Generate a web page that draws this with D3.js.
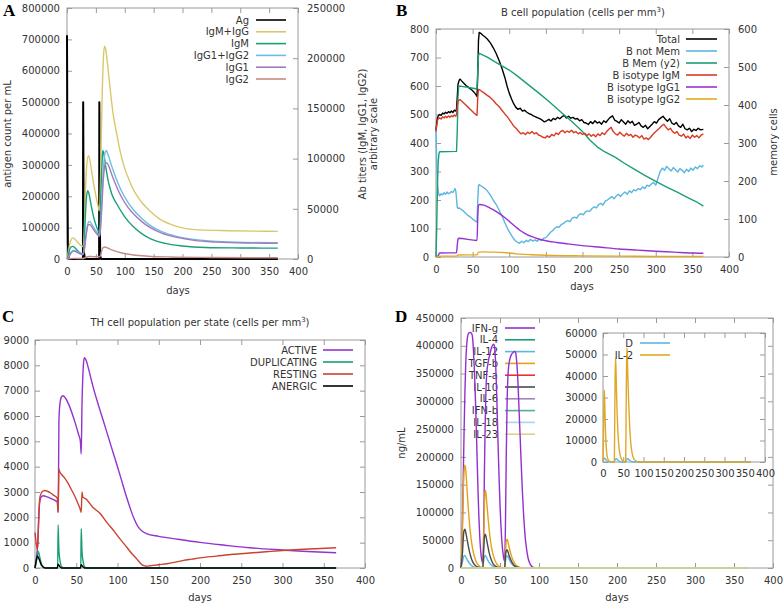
<!DOCTYPE html>
<html><head><meta charset="utf-8">
<script src="https://cdn.jsdelivr.net/npm/d3@7"></script>
<style>
body{margin:0;background:#fff}
svg{display:block}
text{font-family:"DejaVu Sans",sans-serif;font-size:10px;fill:#333}
.plab{font-family:"Liberation Serif",serif;font-weight:bold;font-size:17px;fill:#000}
</style>
</head><body>
<svg id="c" width="784" height="605"></svg>
<script>
// ---------- shared tick labels ----------
const xTicks = [0,50,100,150,200,250,300,350,400];

// ---------- Panel A ----------
const aYTicks = [0,100000,200000,300000,400000,500000,600000,700000,800000];
const aY2Ticks = [0,50000,100000,150000,200000,250000];
const aLegend = ["Ag","IgM+IgG","IgM","IgG1+IgG2","IgG1","IgG2"];
const agSeries = [[0,713000],[0.7,300000],[1.5,50000],[3,0],[27.6,0],[28,500000],[28.7,200000],[29.5,20000],[31,0],[55.6,0],[56,500000],[56.7,150000],[57.5,10000],[59,0],[365,0]];
const igmIggSeries = [[0,0],[2,5000],[4,13000],[7,19000],[10,21000],[14,19500],[18,17000],[22,14500],[27,12500],[28,13000],[30,30000],[32,68000],[34,92000],[37,103000],[39,100000],[42,90000],[46,75000],[50,63000],[54,52000],[56,48000],[57,55000],[59,110000],[61,165000],[63,200000],[65,212000],[67,209000],[70,195000],[75,168000],[80,144000],[86,125000],[93,105000],[100,90000],[108,78000],[115,69000],[130,56000],[145,47000],[160,40000],[180,34500],[200,31000],[230,29000],[280,28200],[365,27500]];
const igmSeries = [[0,0],[2,3000],[4,8500],[7,12000],[10,12600],[14,11000],[18,8500],[22,6500],[27,5000],[28,5500],[30,18000],[32,45000],[34,63000],[36,68000],[38,65000],[42,53000],[46,42000],[50,34000],[54,28000],[56,26000],[57,30000],[59,70000],[61,100000],[62,108000],[64,104000],[67,92000],[72,76000],[78,64000],[86,55000],[100,42000],[115,32000],[130,25000],[145,20000],[170,15500],[200,13000],[240,11500],[300,11000],[365,10800]];
const igg12Series = [[0,0],[3,2000],[6,5500],[9,8000],[12,8600],[16,7800],[20,6500],[24,5200],[27,4700],[28,5000],[30,10000],[33,25000],[36,35000],[38,37500],[41,36500],[45,32500],[50,28000],[54,25000],[56,24000],[57,26000],[60,55000],[63,90000],[66,106000],[68,108000],[71,104000],[76,95000],[82,85000],[88,76000],[95,67000],[105,57000],[115,49000],[130,40000],[145,33000],[165,27000],[190,22500],[220,19500],[260,17500],[310,16500],[365,16200]];
const igg1Series = [[0,0],[3,1800],[6,5000],[9,7200],[12,7800],[16,7000],[20,5800],[24,4800],[27,4300],[28,4600],[30,9000],[33,23000],[36,33000],[38,34500],[41,33500],[45,30000],[50,26000],[54,23500],[56,22500],[57,24000],[60,48000],[63,80000],[66,94000],[69,96000],[72,93000],[77,85000],[83,76000],[89,68000],[96,60000],[105,52000],[115,45000],[130,37000],[145,31000],[165,25500],[190,21500],[220,18500],[260,16800],[310,15900],[365,15600]];
const igg2Series = [[0,0],[5,300],[12,600],[25,500],[28,500],[32,1500],[38,2500],[45,2400],[55,2200],[57,2300],[60,8000],[63,11500],[66,12000],[70,11000],[80,8500],[95,6000],[115,4000],[140,2800],[180,2000],[250,1500],[365,1200]];

// ---------- Panel B ----------
const bYTicks = [0,100,200,300,400,500,600,700,800];
const bY2Ticks = [0,100,200,300,400,500,600];
const bLegend = ["Total","B not Mem","B Mem (y2)","B isotype IgM","B isotype IgG1","B isotype IgG2"];
const totalSeries = [[0,445],[1,470],[2,488],[3,495],[4,498],[5,500],[7,497],[9,505],[11,502],[13,508],[15,504],[17,510],[19,506],[21,512],[23,507],[25,515],[27,512],[28,518],[29,560],[30,605],[31,615],[32,622],[33,624],[35,618],[38,610],[41,602],[44,596],[47,590],[50,583],[53,575],[55,568],[56,563],[57,640],[58,760],[59,788],[61,785],[64,778],[67,772],[70,765],[74,752],[78,735],[82,715],[86,690],[90,662],[94,630],[97,600],[100,575],[103,555],[106,538],[109,525],[112,518],[115,522],[118,512],[121,515],[124,508],[127,503],[130,500],[133,495],[136,492],[139,488],[142,485],[145,480],[148,474],[151,478],[154,483],[157,477],[160,486],[163,482],[166,490],[169,485],[172,492],[175,497],[178,488],[181,494],[184,487],[187,490],[190,484],[193,486],[196,478],[199,482],[202,472],[205,470],[208,465],[211,475],[214,468],[217,478],[220,470],[223,474],[226,466],[229,478],[232,472],[235,482],[238,490],[241,495],[244,480],[247,476],[250,470],[253,482],[256,474],[259,466],[262,478],[265,470],[268,476],[271,462],[274,466],[277,472],[280,460],[283,455],[286,462],[289,450],[292,458],[295,466],[298,475],[301,470],[304,482],[307,488],[310,494],[313,484],[316,476],[319,485],[322,470],[325,465],[328,472],[331,460],[334,455],[337,466],[340,450],[343,446],[346,452],[349,440],[352,448],[355,444],[358,452],[361,446],[365,448]];
const notMemSeries = [[0,445],[1,330],[2,260],[3,230],[4,218],[5,215],[7,222],[9,218],[11,226],[13,220],[15,228],[17,222],[19,225],[21,230],[23,226],[25,235],[26,240],[27,232],[28,205],[29,175],[30,170],[32,172],[35,166],[38,160],[41,152],[44,145],[47,140],[50,133],[53,127],[56,122],[57,200],[58,250],[59,254],[61,250],[64,245],[67,240],[70,232],[74,218],[78,200],[82,185],[86,165],[90,145],[94,120],[98,98],[102,80],[105,68],[108,58],[111,52],[114,48],[117,55],[120,50],[123,58],[126,54],[129,62],[132,56],[135,60],[138,55],[141,62],[144,58],[147,66],[150,68],[153,76],[156,86],[159,92],[162,100],[165,106],[168,104],[171,114],[174,118],[177,124],[180,128],[183,124],[186,136],[189,140],[192,136],[195,148],[198,152],[201,148],[204,158],[207,162],[210,160],[213,170],[216,176],[219,172],[222,184],[225,188],[228,182],[231,196],[234,200],[237,206],[240,212],[243,204],[246,214],[249,220],[252,212],[255,222],[258,228],[261,220],[264,232],[267,226],[270,236],[273,232],[276,240],[279,236],[282,246],[285,240],[288,252],[291,248],[294,256],[297,262],[300,252],[303,276],[306,300],[309,312],[312,304],[315,318],[318,310],[321,302],[324,314],[327,306],[330,298],[333,310],[336,304],[339,296],[342,308],[345,300],[348,312],[351,304],[354,316],[357,310],[360,320],[363,316],[365,322]];
const memSeries = [[0,0],[1,80],[2,190],[3,250],[4,272],[5,277],[28,278],[29,330],[30,420],[31,450],[35,449],[45,446],[56,442],[57,490],[58,530],[59,536],[70,526],[80,514],[90,503],[100,492],[110,478],[125,455],[140,432],[155,408],[170,382],[185,357],[200,330],[210,308],[220,290],[230,277],[245,262],[256,248],[270,232],[285,215],[302,197],[315,184],[330,170],[345,155],[355,146],[365,134]];
const isoIgmSeries = [[0,440],[1,462],[2,478],[3,485],[5,488],[7,484],[9,492],[11,488],[13,494],[15,489],[17,495],[19,490],[21,496],[23,492],[25,498],[27,494],[28,500],[29,530],[30,545],[31,550],[33,552],[36,545],[40,535],[44,525],[48,515],[52,505],[55,498],[56,497],[57,560],[58,588],[60,586],[63,580],[66,575],[70,567],[74,560],[78,550],[82,538],[86,528],[90,515],[94,502],[98,490],[102,475],[106,460],[110,450],[113,440],[116,432],[119,436],[122,430],[125,438],[128,433],[131,440],[134,432],[137,436],[140,428],[143,425],[146,420],[149,418],[152,425],[155,420],[158,430],[161,425],[164,435],[167,430],[170,440],[173,444],[176,436],[179,442],[182,438],[185,445],[188,436],[191,440],[194,432],[197,437],[200,430],[203,434],[206,426],[209,432],[212,424],[215,430],[218,422],[221,432],[224,426],[227,436],[230,430],[233,440],[236,448],[239,455],[242,440],[245,432],[248,428],[251,438],[254,430],[257,424],[260,434],[263,426],[266,430],[269,420],[272,428],[275,424],[278,418],[281,426],[284,414],[287,418],[290,412],[293,420],[296,430],[299,438],[302,445],[305,452],[308,460],[311,466],[314,455],[317,446],[320,452],[323,440],[326,434],[329,440],[332,428],[335,424],[338,432],[341,418],[344,424],[347,416],[350,428],[353,420],[356,426],[359,418],[362,428],[365,432]];
const isoIgg1Series = [[0,0],[3,5],[5,14],[28,15],[29,40],[30,62],[31,66],[56,58],[57,140],[58,182],[60,184],[65,182],[70,177],[75,170],[80,163],[85,155],[90,146],[95,136],[100,125],[105,114],[110,103],[115,93],[120,85],[130,72],[140,63],[150,57],[165,51],[180,46],[200,40],[225,34],[250,28],[275,24],[300,20],[325,17],[350,14],[365,13]];
const isoIgg2Series = [[0,0],[3,1],[5,3],[28,3],[30,7],[56,8],[58,17],[65,18],[80,17],[95,15],[110,11],[130,8],[150,6],[200,4],[250,3],[300,2],[365,2]];

// ---------- Panel C ----------
const cYTicks = [0,1000,2000,3000,4000,5000,6000,7000,8000,9000];
const cLegend = ["ACTIVE","DUPLICATING","RESTING","ANERGIC"];
const activeSeries = [[0,50],[1,200],[2,500],[3,800],[4,1500],[5,2300],[6,2650],[8,2820],[10,2850],[13,2830],[17,2780],[21,2720],[25,2650],[27,2600],[28,2200],[28.5,3500],[29,5800],[30,6400],[32,6750],[34,6800],[37,6700],[41,6450],[45,6100],[49,5700],[53,5250],[55,5000],[56,4500],[57,6500],[58,7600],[59,8150],[60,8300],[62,8200],[65,7850],[70,7200],[75,6630],[80,6100],[85,5580],[90,5050],[95,4520],[100,4000],[105,3450],[110,2900],[115,2400],[120,1950],[125,1620],[130,1450],[135,1360],[150,1250],[170,1150],[200,1010],[230,900],[260,800],[300,710],[330,650],[365,600]];
const duplicatingSeries = [[0,0],[2,300],[4,650],[6,400],[8,150],[11,30],[14,0],[27.5,0],[28,1700],[29,700],[30.5,250],[32,60],[35,0],[55.5,0],[56,1550],[57,650],[58.5,220],[60,50],[63,0],[365,0]];
const restingSeries = [[0,1400],[1,1100],[2,850],[3,720],[4,1500],[5,2400],[6,2800],[8,2980],[10,3040],[12,3060],[15,3030],[19,2960],[23,2860],[27,2750],[28,2200],[28.5,3000],[29,3900],[30,3800],[32,3700],[36,3550],[40,3350],[44,3100],[48,2850],[52,2550],[55,2300],[56,2200],[57,3000],[58,2800],[62,2720],[70,2400],[79,2150],[87,1800],[95,1490],[103,1150],[111,830],[117,580],[123,370],[128,180],[131,100],[135,70],[140,90],[150,130],[160,170],[170,230],[180,300],[190,350],[200,400],[220,470],[240,540],[260,590],[280,640],[300,690],[320,730],[340,760],[365,800]];
const anergicSeries = [[0,0],[1.5,300],[3,480],[5,350],[8,100],[12,0],[27,0],[28,150],[30,60],[32,0],[55,0],[56,130],[58,50],[60,0],[365,0]];

// ---------- Panel D ----------
const dYTicks = [0,50000,100000,150000,200000,250000,300000,350000,400000,450000];
const dLegend = ["IFN-g","IL-4","IL-12","TGF-b","TNF-a","IL-10","IL-6","IFN-b","IL-18","IL-23"];
const ifngSeries = [[0,0],[1,30000],[2,90000],[3,170000],[4,250000],[5,315000],[6,365000],[7,395000],[8,412000],[9,420000],[10,423000],[12,424000],[14,421000],[15,412000],[16,390000],[17,360000],[18,325000],[19,280000],[20,232000],[21,180000],[22,130000],[23,90000],[24,58000],[25,35000],[26,20000],[27,12000],[28,9000],[29,60000],[30,170000],[31,260000],[32,320000],[33,350000],[35,372000],[37,385000],[39,396000],[41,402000],[42,403000],[43,398000],[44,380000],[45,345000],[46,300000],[47,250000],[48,200000],[49,155000],[50,115000],[51,82000],[52,56000],[53,38000],[54,25000],[55,16000],[56,12000],[57,80000],[58,200000],[59,290000],[60,340000],[61,362000],[63,378000],[65,385000],[67,388000],[69,390000],[70,388000],[71,378000],[72,360000],[73,335000],[74,300000],[75,265000],[76,230000],[77,195000],[78,160000],[79,130000],[80,102000],[81,80000],[82,60000],[84,35000],[86,18000],[88,9000],[90,4000],[93,1000],[96,0],[365,0]];
const il4Series = [[0,0],[365,0]];
const il12Series = [[0,0],[2,12000],[3,19000],[4,22000],[5,22500],[6,20000],[8,15000],[10,10000],[13,5000],[16,2000],[20,500],[28,0],[29,12000],[30,20000],[31,22500],[32,21000],[34,15000],[36,10000],[39,5000],[43,1500],[50,0],[56,0],[57,12000],[58,20000],[59,22000],[61,18000],[63,12000],[66,6000],[70,2000],[76,0],[365,0]];
const tgfbSeries = [[0,0],[1,30000],[2,80000],[3,140000],[4,175000],[5,185000],[6,178000],[7,158000],[8,135000],[10,95000],[12,64000],[14,42000],[16,27000],[18,17000],[20,10000],[23,4000],[26,1000],[28,500],[29,40000],[30,110000],[31,140000],[32,135000],[33,118000],[35,85000],[37,58000],[39,38000],[41,25000],[44,12000],[47,5000],[51,1500],[56,500],[57,25000],[58,48000],[59,52000],[60,48000],[62,36000],[64,25000],[66,16000],[69,8000],[72,3500],[76,1000],[80,0],[365,0]];
const tnfaSeries = [[0,0],[365,0]];
const il10Series = [[0,0],[2,30000],[3,55000],[4,68000],[5,70000],[6,65000],[8,50000],[10,35000],[12,23000],[15,11000],[18,5000],[22,1500],[26,300],[28,0],[29,30000],[30,55000],[31,61000],[32,57000],[34,42000],[36,28000],[38,18000],[41,8000],[45,2500],[50,500],[56,0],[57,22000],[58,31000],[59,33000],[60,30000],[62,21000],[65,11000],[68,5000],[72,1500],[78,0],[365,0]];
const il6Series = [[0,0],[365,0]];
const ifnbSeries = [[0,0],[365,0]];
const il18Series = [[0,0],[365,0]];
const il23Series = [[0,0],[365,0]];
// inset
const insetYTicks = [0,10000,20000,30000,40000,50000,60000];
const insetLegend = ["D","IL-2"];
const dangerSeries = [[0,0],[2,1500],[4,1800],[7,1000],[12,300],[20,0],[28,0],[30,1200],[33,1500],[37,800],[45,0],[56,0],[58,1200],[61,1500],[66,700],[75,0],[365,0]];
const il2Series = [[0,0],[1,10000],[2,25000],[3,33500],[4,30000],[5,22000],[6,15000],[8,7000],[10,3000],[13,1000],[18,200],[27,0],[28,0],[29,20000],[30,40000],[31,48500],[32,44000],[33,35000],[35,22000],[37,13000],[40,6000],[44,2000],[50,400],[56,0],[57,22000],[58,42000],[59,53000],[60,50000],[61,42000],[63,30000],[65,20000],[68,10000],[72,4000],[77,1200],[85,200],[95,0],[365,0]];

// ---------- drawing ----------
const svg = d3.select("#c");
const fmt = d3.format("d");
const FRAME = "#9a9a9a";

function styleAxis(sel){
  sel.attr("font-family","DejaVu Sans").attr("font-size",10);
  sel.select(".domain").remove();
  sel.selectAll("line").attr("stroke",FRAME);
  sel.selectAll("text").attr("fill","#333");
}

function makePanel(p){
  const g = svg.append("g");
  const x = d3.scaleLinear().domain([0,400]).range([p.left,p.right]);
  const y = d3.scaleLinear().domain([0,p.yMax]).range([p.bottom,p.top]);
  const y2 = p.y2Max ? d3.scaleLinear().domain([0,p.y2Max]).range([p.bottom,p.top]) : null;
  if (p.fillWhite) g.append("rect").attr("x",p.left).attr("y",p.top).attr("width",p.right-p.left).attr("height",p.bottom-p.top).attr("fill","#fff");
  g.append("g").attr("transform",`translate(0,${p.bottom})`)
    .call(d3.axisBottom(x).tickValues(p.xTicks).tickSize(-5).tickPadding(p.xPad||9).tickFormat(fmt)).call(styleAxis);
  g.append("g").attr("transform",`translate(0,${p.top})`)
    .call(d3.axisTop(x).tickValues(p.xTicks).tickSize(-5).tickFormat(()=>"")).call(styleAxis);
  g.append("g").attr("transform",`translate(${p.left},0)`)
    .call(d3.axisLeft(y).tickValues(p.yTicks).tickSize(-5).tickPadding(p.yPad||7).tickFormat(fmt)).call(styleAxis);
  if (y2){
    g.append("g").attr("transform",`translate(${p.right},0)`)
      .call(d3.axisRight(y2).tickValues(p.y2Ticks).tickSize(-5).tickPadding(9).tickFormat(fmt)).call(styleAxis);
  } else {
    g.append("g").attr("transform",`translate(${p.right},0)`)
      .call(d3.axisRight(y).tickValues(p.yTicks).tickSize(-5).tickFormat(()=>"")).call(styleAxis);
  }
  g.append("rect").attr("x",p.left).attr("y",p.top).attr("width",p.right-p.left).attr("height",p.bottom-p.top)
    .attr("fill","none").attr("stroke",FRAME).attr("stroke-width",1);
  return {g,x,y,y2};
}

function drawLine(P, data, color, opts={}){
  const ys = opts.y2 ? P.y2 : P.y;
  const line = d3.line().x(d=>P.x(d[0])).y(d=>ys(d[1])).curve(opts.smooth ? d3.curveMonotoneX : d3.curveLinear);
  P.g.append("path").datum(data).attr("d",line).attr("fill","none")
    .attr("stroke",color).attr("stroke-width",opts.w||1.4).attr("stroke-linejoin","round");
}

function legend(g, labels, colors, o){
  labels.forEach((lab,i)=>{
    const yy = o.y0 + i*o.step;
    g.append("text").attr("x",o.tx).attr("y",yy+3.6).attr("text-anchor","end").text(lab);
    g.append("line").attr("x1",o.l1).attr("x2",o.l2).attr("y1",yy).attr("y2",yy)
      .attr("stroke",colors[i]).attr("stroke-width",1.6);
  });
}

function rotLabel(x,y,txt){
  svg.append("text").attr("transform",`translate(${x},${y}) rotate(-90)`).attr("text-anchor","middle").text(txt);
}
function panelLetter(x,y,t){ svg.append("text").attr("class","plab").attr("x",x).attr("y",y).text(t); }

// ===== Panel A =====
const A = makePanel({left:67,right:298,top:8,bottom:259,yMax:800000,yTicks:aYTicks,y2Max:250000,y2Ticks:aY2Ticks,xTicks:xTicks});
const aColors = ["#000000","#d9c86b","#18a07a","#6cbde3","#a27bbd","#c38c87"];
drawLine(A, agSeries, aColors[0], {w:2});
drawLine(A, igmIggSeries, aColors[1], {y2:true,smooth:true});
drawLine(A, igmSeries, aColors[2], {y2:true,smooth:true});
drawLine(A, igg12Series, aColors[3], {y2:true,smooth:true});
drawLine(A, igg1Series, aColors[4], {y2:true,smooth:true});
drawLine(A, igg2Series, aColors[5], {y2:true,smooth:true});
legend(A.g, aLegend, aColors, {y0:20,step:11.8,tx:249,l1:256,l2:286});
panelLetter(3,16,"A");
rotLabel(11,134,"antigen count per mL");
rotLabel(366,134,"Ab titers (IgM, IgG1, IgG2)");
rotLabel(377,134,"arbitrary scale");
svg.append("text").attr("x",178).attr("y",293.5).attr("text-anchor","middle").text("days");

// ===== Panel B =====
const B = makePanel({left:436,right:729,top:29,bottom:257,yMax:800,yTicks:bYTicks,y2Max:600,y2Ticks:bY2Ticks,xTicks:xTicks});
const bColors = ["#000000","#5bb6e0","#1a9e78","#d83b26","#9632d2","#e2aa22"];
drawLine(B, totalSeries, bColors[0]);
drawLine(B, notMemSeries, bColors[1]);
drawLine(B, memSeries, bColors[2], {y2:true});
drawLine(B, isoIgmSeries, bColors[3]);
drawLine(B, isoIgg1Series, bColors[4], {smooth:true});
drawLine(B, isoIgg2Series, bColors[5], {smooth:true});
legend(B.g, bLegend, bColors, {y0:39,step:12,tx:680,l1:686,l2:717});
panelLetter(396,16,"B");
rotLabel(777,142,"memory cells");
svg.append("text").attr("x",582).attr("y",289.5).attr("text-anchor","middle").text("days");
{
  const t = svg.append("text").attr("x",583).attr("y",15.5).attr("text-anchor","middle");
  t.append("tspan").text("B cell population (cells per mm");
  t.append("tspan").attr("dy",-4).attr("font-size",7).text("3");
  t.append("tspan").attr("dy",4).text(")");
}

// ===== Panel C =====
const C = makePanel({left:35,right:365,top:340,bottom:568,yMax:9000,yTicks:cYTicks,xTicks:xTicks,yPad:6});
const cColors = ["#9332cf","#1a9e78","#c9432f","#000000"];
drawLine(C, activeSeries, cColors[0], {smooth:true});
drawLine(C, duplicatingSeries, cColors[1], {smooth:true});
drawLine(C, restingSeries, cColors[2], {smooth:true});
drawLine(C, anergicSeries, cColors[3], {smooth:true});
legend(C.g, cLegend, cColors, {y0:350,step:12,tx:317,l1:323,l2:353});
panelLetter(2,322,"C");
svg.append("text").attr("x",200).attr("y",600.5).attr("text-anchor","middle").text("days");
{
  const t = svg.append("text").attr("x",200).attr("y",326).attr("text-anchor","middle");
  t.append("tspan").text("TH cell population per state (cells per mm");
  t.append("tspan").attr("dy",-4).attr("font-size",7).text("3");
  t.append("tspan").attr("dy",4).text(")");
}

// ===== Panel D =====
const D = makePanel({left:461,right:773,top:318,bottom:568,yMax:450000,yTicks:dYTicks,xTicks:xTicks});
const dColors = ["#9230cf","#1a9e78","#5bb6e0","#e6a11a","#e8342a","#4a4a4a","#a585b8","#5aaa9e","#a8d5e8","#ddd08a"];
legend(D.g, dLegend, dColors, {y0:328,step:11.8,tx:498,l1:505,l2:535});
drawLine(D, ifngSeries, dColors[0], {smooth:true});
drawLine(D, il4Series, dColors[1]);
drawLine(D, il12Series, dColors[2], {smooth:true});
drawLine(D, tgfbSeries, dColors[3], {smooth:true});
drawLine(D, tnfaSeries, dColors[4]);
drawLine(D, il10Series, dColors[5], {smooth:true});
drawLine(D, il6Series, dColors[6]);
drawLine(D, ifnbSeries, dColors[7]);
drawLine(D, il18Series, dColors[8]);
drawLine(D, il23Series, dColors[9]);
panelLetter(395,322,"D");
rotLabel(405,443,"ng/mL");
svg.append("text").attr("x",617).attr("y",600.5).attr("text-anchor","middle").text("days");
// inset
const I = makePanel({left:603,right:765,top:333,bottom:462,yMax:60000,yTicks:insetYTicks,xTicks:xTicks,fillWhite:true,xPad:8,yPad:6});
const iColors = ["#5bb6e0","#e0a828"];
drawLine(I, dangerSeries, iColors[0], {smooth:true});
drawLine(I, il2Series, iColors[1], {smooth:true});
legend(I.g, insetLegend, iColors, {y0:343,step:12,tx:633,l1:640,l2:670});
</script>
</body></html>
